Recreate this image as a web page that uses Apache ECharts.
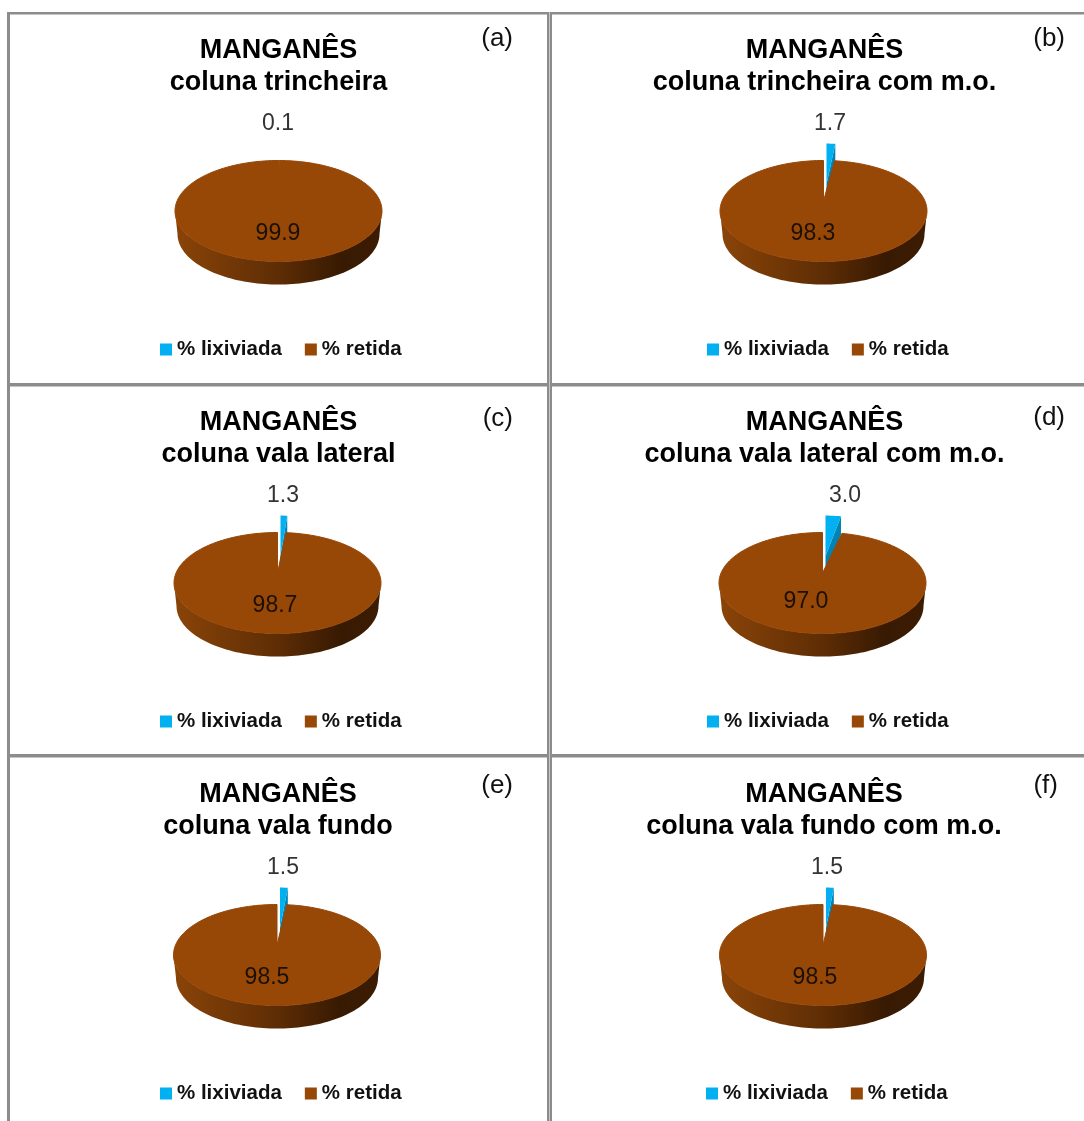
<!DOCTYPE html>
<html lang="pt">
<head>
<meta charset="utf-8">
<title>Manganês</title>
<style>
  html, body { margin: 0; padding: 0; background: #fff; }
  #chart { width: 1084px; height: 1121px; }
</style>
<script src="https://cdn.jsdelivr.net/npm/echarts@6/dist/echarts.min.js"></script>
</head>
<body>
<div id="chart"></div>
<script>
// Mass balance of manganese for each column (percent of the total)
const seriesNames = ['% lixiviada', '% retida'];
const subtitles = [
  'coluna trincheira',
  'coluna trincheira com m.o.',
  'coluna vala lateral',
  'coluna vala lateral com m.o.',
  'coluna vala fundo',
  'coluna vala fundo com m.o.'
];
const panelTags = ['(a)', '(b)', '(c)', '(d)', '(e)', '(f)'];
const lixiviada = [0.1, 1.7, 1.3, 3.0, 1.5, 1.5];
const retida = [99.9, 98.3, 98.7, 97.0, 98.5, 98.5];

// Page layout of the six panels
const pieCenterX = [278.5, 823.5, 277.5, 822.5, 277, 823];
const pieCenterY = [211, 211, 583, 583, 955, 955];
const titleCenterX = [278.5, 824.5, 278.5, 824.5, 278, 824];
const titleTop = [35, 35, 407, 407, 779, 779];
const tagRight = [513, 1065, 513, 1065, 513, 1058];
const tagTop = [26, 26, 406, 405, 773, 773];
const legendLeft = [160, 707, 160, 707, 160, 706];
const legendTop = [339, 339, 711, 711, 1083, 1083];
const wedgeLabelX = [278, 830, 283, 845, 283, 827];
const wedgeLabelY = [124, 124, 496, 496, 868, 868];
const mainLabelX = [278, 813, 275, 806, 267, 815];
const mainLabelY = [234, 234, 606, 602, 978, 978];

// Pie geometry shared by the panels
const RX = 103.5, RY = 50.5, DEPTH = 23, BOTTOM_RX = 101;
const PULL_DX = 3, PULL_DY = -27, PULL_SCALE = 0.8, WEDGE_DEPTH = 18, APEX_LIFT = 10;
const COLORS = { leached: '#00b0f0', leachedSide: '#0083b5', kept: '#974706' };

const rad = (deg) => deg * Math.PI / 180;
const rim = (cx, cy, rx, ry, angle) => [cx + rx * Math.sin(angle), cy - ry * Math.cos(angle)];

function arc(cx, cy, rx, ry, from, to) {
  const pts = [];
  const steps = Math.max(2, Math.ceil(Math.abs(to - from) / rad(2)));
  for (let i = 0; i <= steps; i++) {
    pts.push(rim(cx, cy, rx, ry, from + (to - from) * i / steps));
  }
  return pts;
}

function valueLabel(x, y, value, fill) {
  return {
    type: 'text', z2: 5,
    style: {
      x, y, text: value.toFixed(1),
      font: '23px "Liberation Sans"', fill, align: 'center', verticalAlign: 'middle'
    }
  };
}

// Pulled-out slice: starts at 12 o'clock and sweeps clockwise by its share.
// Slices narrower than a pixel only show their label.
function renderLeached(panel) {
  return (params, api) => {
    const value = api.value(0);
    const sweep = value / 100 * 2 * Math.PI;
    const cx = pieCenterX[panel] + PULL_DX;
    const cy = pieCenterY[panel] + PULL_DY;
    const rx = RX * PULL_SCALE, ry = RY * PULL_SCALE;
    const end = rim(cx, cy, rx, ry, sweep);
    const children = [valueLabel(wedgeLabelX[panel], wedgeLabelY[panel], value, '#333333')];
    if (end[0] - cx >= 1) {
      children.unshift(
        {
          type: 'polygon',
          shape: { points: [[cx, cy], end, [end[0], end[1] + WEDGE_DEPTH], [cx, cy + WEDGE_DEPTH]] },
          style: { fill: COLORS.leachedSide }
        },
        {
          type: 'polygon',
          shape: { points: [[cx, cy]].concat(arc(cx, cy, rx, ry, 0, sweep)) },
          style: { fill: COLORS.leached }
        }
      );
    }
    return { type: 'group', children };
  };
}

// Remaining body of the pie: front wall plus elliptical top face
function renderKept(panel) {
  return (params, api) => {
    const value = api.value(0);
    const start = (1 - value / 100) * 2 * Math.PI;
    const cx = pieCenterX[panel], cy = pieCenterY[panel];
    const wallTop = arc(cx, cy, RX, RY, rad(90), rad(270));
    const wallBottom = arc(cx, cy + DEPTH, BOTTOM_RX, RY, rad(270), rad(90));
    return {
      type: 'group',
      children: [
        {
          type: 'polygon',
          shape: { points: wallTop.concat(wallBottom) },
          style: {
            fill: {
              type: 'linear', x: 0, y: 0, x2: 1, y2: 0,
              colorStops: [
                { offset: 0, color: '#8a4408' },
                { offset: 0.5, color: '#5e2d05' },
                { offset: 0.8, color: '#381a02' },
                { offset: 1, color: '#3c1c03' }
              ]
            }
          }
        },
        {
          type: 'polygon',
          shape: { points: [[cx, cy - APEX_LIFT]].concat(arc(cx, cy, RX, RY, start, 2 * Math.PI)) },
          style: { fill: COLORS.kept, stroke: COLORS.kept, lineWidth: 1 }
        },
        valueLabel(mainLabelX[panel], mainLabelY[panel], value, '#1c1004')
      ]
    };
  };
}

// Grey frames separating the panels
const frameColor = '#8c8c8c';
const frameSeam = '#c4c4c4';
const frameBars = [
  [7, 12, 3, 1109, frameColor],
  [547, 12, 5, 1109, frameColor],
  [7, 12, 1077, 2.5, frameColor],
  [7, 383, 1077, 3.5, frameColor],
  [7, 754, 1077, 3.5, frameColor],
  [549, 12, 1, 1109, frameSeam]
];

const series = [];
subtitles.forEach((_, panel) => {
  series.push({
    type: 'custom', name: seriesNames[0], coordinateSystem: 'none', silent: true,
    itemStyle: { color: COLORS.leached }, z: 2,
    renderItem: renderLeached(panel), data: [[lixiviada[panel]]]
  });
  series.push({
    type: 'custom', name: seriesNames[1], coordinateSystem: 'none', silent: true,
    itemStyle: { color: COLORS.kept }, z: 3,
    renderItem: renderKept(panel), data: [[retida[panel]]]
  });
});

const chart = echarts.init(document.getElementById('chart'), null, { renderer: 'canvas' });
chart.setOption({
  animation: false,
  backgroundColor: '#ffffff',
  title: subtitles.map((sub, i) => ({
    text: 'MANGANÊS\n' + sub,
    left: titleCenterX[i],
    top: titleTop[i],
    textAlign: 'center',
    padding: 0,
    textStyle: {
      fontFamily: 'Liberation Sans', fontWeight: 'bold', fontSize: 27,
      lineHeight: 32, color: '#000000'
    }
  })),
  legend: subtitles.map((_, i) => ({
    data: seriesNames,
    left: legendLeft[i],
    top: legendTop[i],
    padding: 0,
    icon: 'rect',
    itemWidth: 12,
    itemHeight: 12,
    itemGap: 23,
    selectedMode: false,
    textStyle: { fontFamily: 'Liberation Sans', fontWeight: 'bold', fontSize: 20.5, color: '#111111', padding: [0, 0, 0, 0] }
  })),
  graphic: frameBars.map(([x, y, width, height, fill]) => ({
    type: 'rect', silent: true, z: -1,
    shape: { x, y, width, height },
    style: { fill }
  })).concat(panelTags.map((tag, i) => ({
    type: 'text', silent: true,
    style: {
      x: tagRight[i], y: tagTop[i], text: tag,
      font: '26px "Liberation Sans"', fill: '#111111', textAlign: 'right', textVerticalAlign: 'top'
    }
  }))),
  series
});
</script>
</body>
</html>
